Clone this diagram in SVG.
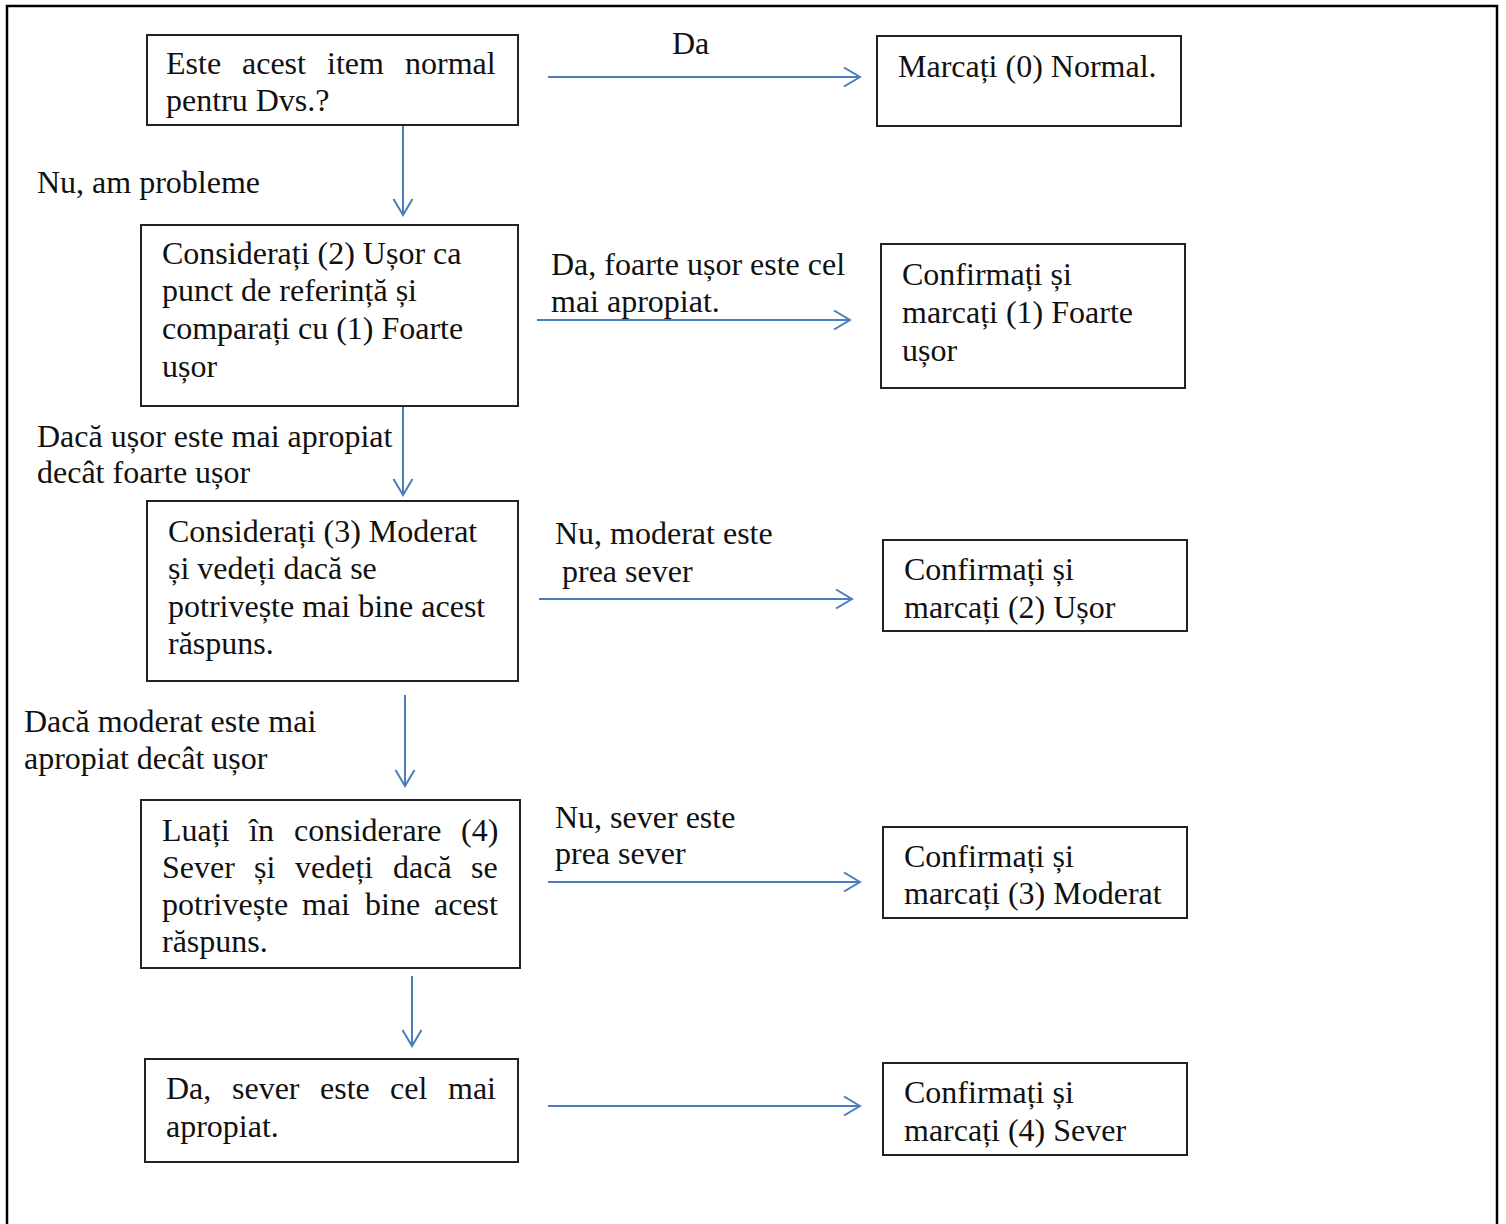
<svg xmlns="http://www.w3.org/2000/svg" width="1506" height="1224" viewBox="0 0 1506 1224">
<defs>
<style>
text{font-family:"Liberation Serif","Times New Roman",serif;font-size:32px;fill:#111}
.box{fill:#fff;stroke:#222;stroke-width:2}
.conn line{stroke:#4a7ebb;stroke-width:2;fill:none}
</style>
<marker id="arr" markerUnits="userSpaceOnUse" markerWidth="22" markerHeight="22" refX="19" refY="11" orient="auto" overflow="visible">
<path d="M3,1.5 L19,11 L3,20.5" fill="none" stroke="#4a7ebb" stroke-width="2"/>
</marker>
</defs>
<rect width="1506" height="1224" fill="#fff"/>
<rect x="7" y="6" width="1490" height="1240" fill="none" stroke="#000" stroke-width="2.5"/>

<g id="connectors" class="conn">
<line x1="548" y1="77" x2="860" y2="77" marker-end="url(#arr)"/>
<line x1="403" y1="125" x2="403" y2="215" marker-end="url(#arr)"/>
<line x1="537" y1="320" x2="850" y2="320" marker-end="url(#arr)"/>
<line x1="403" y1="406" x2="403" y2="495" marker-end="url(#arr)"/>
<line x1="539" y1="599" x2="852" y2="599" marker-end="url(#arr)"/>
<line x1="405" y1="695" x2="405" y2="786" marker-end="url(#arr)"/>
<line x1="548" y1="882" x2="860" y2="882" marker-end="url(#arr)"/>
<line x1="412" y1="976" x2="412" y2="1046" marker-end="url(#arr)"/>
<line x1="548" y1="1106" x2="860" y2="1106" marker-end="url(#arr)"/>
</g>

<g id="labels">
<text x="672" y="54">Da</text>
<text x="37" y="193">Nu, am probleme</text>
<text x="551" y="275">Da, foarte ușor este cel</text>
<text x="551" y="312">mai apropiat.</text>
<text x="37" y="447">Dacă ușor este mai apropiat</text>
<text x="37" y="483">decât foarte ușor</text>
<text x="555" y="544">Nu, moderat este</text>
<text x="562" y="582">prea sever</text>
<text x="24" y="732">Dacă moderat este mai</text>
<text x="24" y="769">apropiat decât ușor</text>
<text x="555" y="828">Nu, sever este</text>
<text x="555" y="864">prea sever</text>
</g>

<g id="n-normal-q">
<rect class="box" x="147" y="35" width="371" height="90"/>
<text y="74"><tspan x="166">Este</tspan><tspan x="242">acest</tspan><tspan x="327">item</tspan><tspan x="405">normal</tspan></text>
<text x="166" y="111">pentru Dvs.?</text>
</g>

<g id="n-mark0">
<rect class="box" x="877" y="36" width="304" height="90"/>
<text x="898" y="77">Marcați (0) Normal.</text>
</g>

<g id="n-consider2">
<rect class="box" x="141" y="225" width="377" height="181"/>
<text x="162" y="264">Considerați (2) Ușor ca</text>
<text x="162" y="301">punct de referință și</text>
<text x="162" y="339">comparați cu (1) Foarte</text>
<text x="162" y="377">ușor</text>
</g>

<g id="n-mark1">
<rect class="box" x="881" y="244" width="304" height="144"/>
<text x="902" y="285">Confirmați și</text>
<text x="902" y="323">marcați (1) Foarte</text>
<text x="902" y="361">ușor</text>
</g>

<g id="n-consider3">
<rect class="box" x="147" y="501" width="371" height="180"/>
<text x="168" y="542">Considerați (3) Moderat</text>
<text x="168" y="579">și vedeți dacă se</text>
<text x="168" y="617">potrivește mai bine acest</text>
<text x="168" y="654">răspuns.</text>
</g>

<g id="n-mark2">
<rect class="box" x="883" y="540" width="304" height="91"/>
<text x="904" y="580">Confirmați și</text>
<text x="904" y="618">marcați (2) Ușor</text>
</g>

<g id="n-consider4">
<rect class="box" x="141" y="800" width="379" height="168"/>
<text y="841"><tspan x="162">Luați</tspan><tspan x="249">în</tspan><tspan x="294">considerare</tspan><tspan x="461">(4)</tspan></text>
<text y="878"><tspan x="162">Sever</tspan><tspan x="254">și</tspan><tspan x="295">vedeți</tspan><tspan x="393">dacă</tspan><tspan x="471">se</tspan></text>
<text y="915"><tspan x="162">potrivește</tspan><tspan x="302">mai</tspan><tspan x="365">bine</tspan><tspan x="434">acest</tspan></text>
<text x="162" y="952">răspuns.</text>
</g>

<g id="n-mark3">
<rect class="box" x="883" y="827" width="304" height="91"/>
<text x="904" y="867">Confirmați și</text>
<text x="904" y="904">marcați (3) Moderat</text>
</g>

<g id="n-severe">
<rect class="box" x="145" y="1059" width="373" height="103"/>
<text y="1099"><tspan x="166">Da,</tspan><tspan x="232">sever</tspan><tspan x="320">este</tspan><tspan x="390">cel</tspan><tspan x="448">mai</tspan></text>
<text x="166" y="1137">apropiat.</text>
</g>

<g id="n-mark4">
<rect class="box" x="883" y="1063" width="304" height="92"/>
<text x="904" y="1103">Confirmați și</text>
<text x="904" y="1141">marcați (4) Sever</text>
</g>
</svg>
